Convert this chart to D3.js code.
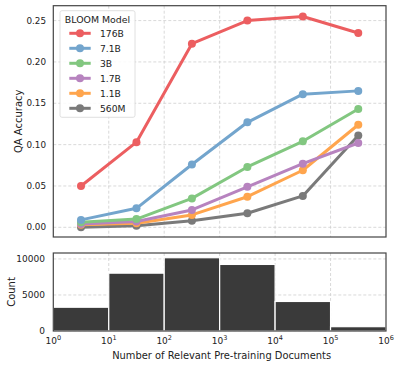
<!DOCTYPE html>
<html>
<head>
<meta charset="utf-8">
<script src="https://cdn.jsdelivr.net/npm/d3@7"></script>
<style>
  body { margin: 0; background: #fff; }
  svg text { font-family: "DejaVu Sans", sans-serif; fill: #222; }
</style>
</head>
<body>
<div id="container"><svg></svg></div>
<script>
let width = 399;
let height = 367;

// bin centres (number of relevant docs) for the accuracy points
let docs = [3.16, 31.6, 316, 3162, 31623, 316228];
let models = ["176B", "7.1B", "3B", "1.7B", "1.1B", "560M"];
let colors = ["#ec5e60", "#73a5cd", "#82c780", "#b783bf", "#ffa54d", "#7a7a7a"];
let acc_176B = [0.050, 0.103, 0.222, 0.250, 0.255, 0.235];
let acc_7_1B = [0.009, 0.023, 0.076, 0.127, 0.161, 0.165];
let acc_3B   = [0.006, 0.010, 0.035, 0.073, 0.104, 0.143];
let acc_1_7B = [0.004, 0.007, 0.021, 0.049, 0.077, 0.102];
let acc_1_1B = [0.003, 0.005, 0.015, 0.037, 0.069, 0.124];
let acc_560M = [0.000, 0.002, 0.008, 0.017, 0.038, 0.111];
let accs = [acc_176B, acc_7_1B, acc_3B, acc_1_7B, acc_1_1B, acc_560M];

// histogram bins (decade edges) and counts
let binEdges = [1, 10, 100, 1000, 10000, 100000, 1000000];
let counts = [3300, 8030, 10170, 9240, 4100, 600];

let yTicksTop = [0, 0.05, 0.10, 0.15, 0.20, 0.25];
let yTicksBot = [0, 5000, 10000];
let xTicks = [1, 10, 100, 1000, 10000, 100000, 1000000];

function draw() {
    let svg = d3.select('#container').select('svg')
        .attr('width', width).attr('height', height);

    let left = 53.3, right = 386;
    let x = d3.scaleLog().domain([1, 1e6]).range([left, right]);

    // ---- top panel ----
    let topT = 5.7, topB = 237;
    let y = d3.scaleLinear().domain([-0.0117, 0.268]).range([topB, topT]);

    let grid = svg.append("g")
        .attr("stroke", "#cfcfcf").attr("stroke-width", 0.8)
        .attr("stroke-dasharray", "3,2");
    grid.selectAll("line.h").data(yTicksTop).join("line")
        .attr("class", "h")
        .attr("x1", left).attr("x2", right)
        .attr("y1", d => y(d)).attr("y2", d => y(d));
    grid.selectAll("line.v").data(xTicks.slice(1, -1)).join("line")
        .attr("class", "v")
        .attr("x1", d => x(d)).attr("x2", d => x(d))
        .attr("y1", topT).attr("y2", topB);

    svg.append("g").selectAll("text").data(yTicksTop).join("text")
        .attr("x", 46).attr("y", d => y(d))
        .attr("dominant-baseline", "central")
        .attr("text-anchor", "end")
        .attr("font-size", 8.8)
        .text(d => d.toFixed(2));

    svg.append("text")
        .attr("transform", `translate(18.5,${(topT + topB) / 2}) rotate(-90)`)
        .attr("text-anchor", "middle").attr("dominant-baseline", "central")
        .attr("font-size", 10)
        .text("QA Accuracy");

    let line = d3.line().x((d, i) => x(docs[i])).y(d => y(d));
    let series = svg.append("g");
    // draw smallest model first so 176B ends up on top
    for (let k = models.length - 1; k >= 0; k--) {
        let g = series.append("g");
        g.append("path").datum(accs[k])
            .attr("d", line).attr("fill", "none")
            .attr("stroke", colors[k]).attr("stroke-width", 3)
            .attr("stroke-linejoin", "round");
        g.selectAll("circle").data(accs[k]).join("circle")
            .attr("cx", (d, i) => x(docs[i])).attr("cy", d => y(d))
            .attr("r", 4).attr("fill", colors[k]);
    }

    svg.append("rect")
        .attr("x", left).attr("y", topT)
        .attr("width", right - left).attr("height", topB - topT)
        .attr("fill", "none").attr("stroke", "#444").attr("stroke-width", 1.2);

    // legend
    let lg = svg.append("g");
    lg.append("rect")
        .attr("x", 60).attr("y", 10.7).attr("width", 75).attr("height", 106.6)
        .attr("rx", 2).attr("fill", "#fff").attr("fill-opacity", 0.85)
        .attr("stroke", "#d8d8d8").attr("stroke-width", 0.8);
    lg.append("text")
        .attr("x", 97.5).attr("y", 19.3)
        .attr("text-anchor", "middle").attr("dominant-baseline", "central")
        .attr("font-size", 9.4)
        .text("BLOOM Model");
    models.forEach((m, i) => {
        let ly = 33.3 + i * 15;
        lg.append("line").attr("x1", 69.3).attr("x2", 90.7)
            .attr("y1", ly).attr("y2", ly)
            .attr("stroke", colors[i]).attr("stroke-width", 3);
        lg.append("circle").attr("cx", 80).attr("cy", ly).attr("r", 4)
            .attr("fill", colors[i]);
        lg.append("text").attr("x", 100).attr("y", ly)
            .attr("dominant-baseline", "central").attr("font-size", 9.2)
            .text(m);
    });

    // ---- bottom panel ----
    let botT = 253, botB = 331;
    let yb = d3.scaleLinear().domain([0, 10826]).range([botB, botT]);

    let grid2 = svg.append("g")
        .attr("stroke", "#cfcfcf").attr("stroke-width", 0.8)
        .attr("stroke-dasharray", "3,2");
    grid2.selectAll("line.h").data(yTicksBot).join("line")
        .attr("class", "h")
        .attr("x1", left).attr("x2", right)
        .attr("y1", d => yb(d)).attr("y2", d => yb(d));
    grid2.selectAll("line.v").data(xTicks.slice(1, -1)).join("line")
        .attr("class", "v")
        .attr("x1", d => x(d)).attr("x2", d => x(d))
        .attr("y1", botT).attr("y2", botB);

    let bars = svg.append("g").attr("class", "bars");
    bars.selectAll("rect.bar").data(counts).join("rect")
        .attr("class", "bar")
        .attr("x", (d, i) => x(binEdges[i]))
        .attr("width", (d, i) => x(binEdges[i + 1]) - x(binEdges[i]))
        .attr("y", d => yb(d))
        .attr("height", d => botB - yb(d))
        .attr("fill", "#3a3a3a")
        .attr("stroke", "#fff").attr("stroke-width", 1.2);

    svg.append("rect")
        .attr("x", left).attr("y", botT)
        .attr("width", right - left).attr("height", botB - botT)
        .attr("fill", "none").attr("stroke", "#444").attr("stroke-width", 1.2);

    svg.append("g").selectAll("text").data(yTicksBot).join("text")
        .attr("x", 45).attr("y", d => yb(d))
        .attr("dominant-baseline", "central")
        .attr("text-anchor", "end")
        .attr("font-size", 9)
        .text(d => d);

    svg.append("text")
        .attr("transform", `translate(11,${(botT + botB) / 2}) rotate(-90)`)
        .attr("text-anchor", "middle").attr("dominant-baseline", "central")
        .attr("font-size", 10)
        .text("Count");

    let xt = svg.append("g").selectAll("text").data(xTicks).join("text")
        .attr("x", d => x(d)).attr("y", 344)
        .attr("text-anchor", "middle")
        .attr("font-size", 9);
    xt.append("tspan").text("10");
    xt.append("tspan").attr("dy", -4).attr("font-size", 6.5)
        .text(d => Math.round(Math.log10(d)));

    svg.append("text")
        .attr("x", (left + right) / 2 + 2).attr("y", 358.5)
        .attr("text-anchor", "middle")
        .attr("font-size", 9.9)
        .text("Number of Relevant Pre-training Documents");
}

draw();
</script>
</body>
</html>
